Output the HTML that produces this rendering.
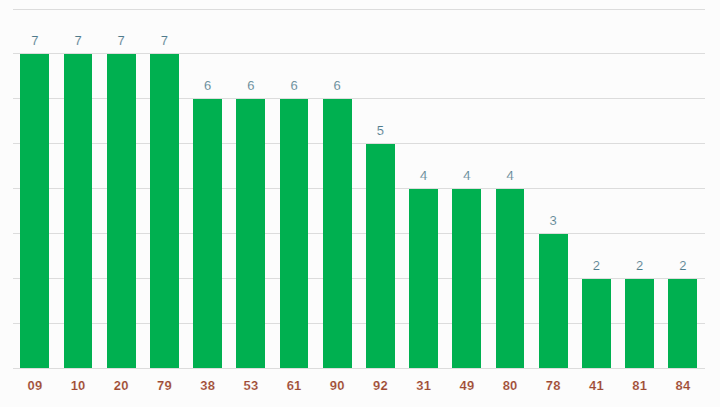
<!DOCTYPE html>
<html><head><meta charset="utf-8"><title>Chart</title>
<style>
html,body{margin:0;padding:0;background:#fcfcfc;}
body{width:720px;height:407px;overflow:hidden;font-family:"Liberation Sans",sans-serif;}
svg{display:block}
.v{font-size:13px;fill:#4f7a8b;stroke:#fcfcfc;stroke-width:0.15px;text-anchor:middle;font-family:"Liberation Sans",sans-serif;}
.c{font-size:13px;font-weight:bold;fill:#9e4932;text-anchor:start;font-family:"Liberation Sans",sans-serif;letter-spacing:0px;stroke:#fcfcfc;stroke-width:0.15px}
</style></head><body>
<svg width="720" height="407" viewBox="0 0 720 407" xmlns="http://www.w3.org/2000/svg">
<rect width="720" height="407" fill="#fcfcfc"/>
<g stroke="#dcdcdc" stroke-width="1" shape-rendering="crispEdges">
<line x1="13" x2="705" y1="368.5" y2="368.5"/>
<line x1="13" x2="705" y1="323.5" y2="323.5"/>
<line x1="13" x2="705" y1="278.5" y2="278.5"/>
<line x1="13" x2="705" y1="233.5" y2="233.5"/>
<line x1="13" x2="705" y1="188.5" y2="188.5"/>
<line x1="13" x2="705" y1="143.5" y2="143.5"/>
<line x1="13" x2="705" y1="98.5" y2="98.5"/>
<line x1="13" x2="705" y1="53.5" y2="53.5"/>
<line x1="13" x2="705" y1="9.5" y2="9.5"/>
</g>
<g fill="#00b050" shape-rendering="crispEdges">
<rect x="20" y="54" width="29" height="314"/>
<rect x="64" y="54" width="28" height="314"/>
<rect x="107" y="54" width="29" height="314"/>
<rect x="150" y="54" width="29" height="314"/>
<rect x="193" y="99" width="29" height="269"/>
<rect x="236" y="99" width="29" height="269"/>
<rect x="280" y="99" width="28" height="269"/>
<rect x="323" y="99" width="29" height="269"/>
<rect x="366" y="144" width="29" height="224"/>
<rect x="409" y="189" width="29" height="179"/>
<rect x="452" y="189" width="29" height="179"/>
<rect x="496" y="189" width="28" height="179"/>
<rect x="539" y="234" width="29" height="134"/>
<rect x="582" y="279" width="29" height="89"/>
<rect x="625" y="279" width="29" height="89"/>
<rect x="668" y="279" width="29" height="89"/>
</g>
<g>
<text class="v" x="34.8" y="45">7</text>
<text class="v" x="78.0" y="45">7</text>
<text class="v" x="121.2" y="45">7</text>
<text class="v" x="164.4" y="45">7</text>
<text class="v" x="207.6" y="90">6</text>
<text class="v" x="250.8" y="90">6</text>
<text class="v" x="294.0" y="90">6</text>
<text class="v" x="337.2" y="90">6</text>
<text class="v" x="380.4" y="135">5</text>
<text class="v" x="423.6" y="180">4</text>
<text class="v" x="466.8" y="180">4</text>
<text class="v" x="510.0" y="180">4</text>
<text class="v" x="553.2" y="225">3</text>
<text class="v" x="596.4" y="270">2</text>
<text class="v" x="639.6" y="270">2</text>
<text class="v" x="682.8" y="270">2</text>
</g>
<g>
<text class="c" x="27.46 34.91" y="389.6">09</text>
<text class="c" x="70.66 78.11" y="389.6">10</text>
<text class="c" x="113.86 121.31" y="389.6">20</text>
<text class="c" x="157.06 164.51" y="389.6">79</text>
<text class="c" x="200.26 207.71" y="389.6">38</text>
<text class="c" x="243.46 250.91" y="389.6">53</text>
<text class="c" x="286.66 294.11" y="389.6">61</text>
<text class="c" x="329.86 337.31" y="389.6">90</text>
<text class="c" x="373.06 380.51" y="389.6">92</text>
<text class="c" x="416.26 423.71" y="389.6">31</text>
<text class="c" x="459.46 466.91" y="389.6">49</text>
<text class="c" x="502.66 510.11" y="389.6">80</text>
<text class="c" x="545.86 553.31" y="389.6">78</text>
<text class="c" x="589.06 596.51" y="389.6">41</text>
<text class="c" x="632.26 639.71" y="389.6">81</text>
<text class="c" x="675.46 682.91" y="389.6">84</text>
</g>
</svg>
</body></html>
